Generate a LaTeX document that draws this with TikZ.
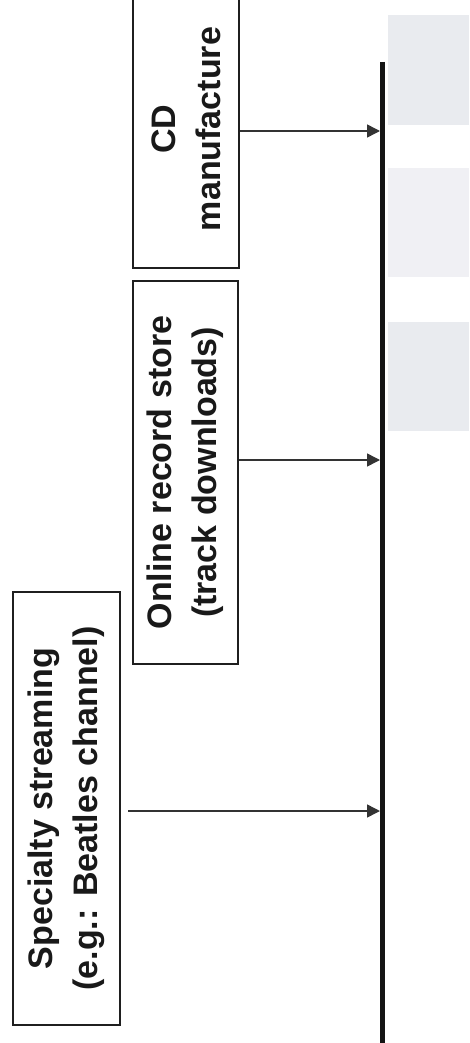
\documentclass[tikz,border=0pt]{standalone}
\usepackage{fontspec}
\setmainfont{Liberation Sans}
\usetikzlibrary{arrows.meta}
\begin{document}
\begin{tikzpicture}[x=1pt,y=-1pt,
  channel/.style={draw=black!88, line width=2.7pt, fill=white, rotate=90,
    align=center, inner sep=0pt, text=black!90,
    font=\bfseries\fontsize{34}{45}\selectfont},
  feed/.style={draw=black!80, line width=1.5pt,
    -{Triangle[length=13pt,width=13pt]}},
  spine/.style={draw=black!92, line width=5pt},
  panel/.style={fill=gray!8!blue!3!white}
]
\useasboundingbox (0,0) rectangle (469,1043);

% pale panels on the right
\fill[fill={rgb,255:red,233;green,235;blue,239}] (388,15) rectangle (469,125);
\fill[fill={rgb,255:red,240;green,240;blue,244}] (388,168) rectangle (469,277);
\fill[fill={rgb,255:red,233;green,235;blue,239}] (388,322) rectangle (469,431);

% main spine
\coordinate (top) at (382,62);
\coordinate (bot) at (382,1043);
\draw[spine] (top) -- (bot);

% distribution channels
\node[channel, minimum width=278pt, minimum height=106pt] (cd) at (186,129)
  {CD\\manufacture};
\node[channel, minimum width=383pt, minimum height=105pt] (online) at (185.5,472.5)
  {Online record store\\(track downloads)};
\node[channel, minimum width=433pt, minimum height=107pt] (spec) at (66.5,808.5)
  {Specialty streaming\\(e.g.: Beatles channel)};

% arrival points on the spine
\coordinate (a1) at (380,131);
\coordinate (a2) at (380,460);
\coordinate (a3) at (380,811);

\draw[feed] (cd.south |- a1) -- (a1);
\draw[feed] (online.south |- a2) -- (a2);
\draw[feed, shorten <=7pt] (spec.south |- a3) -- (a3);
\end{tikzpicture}
\end{document}
